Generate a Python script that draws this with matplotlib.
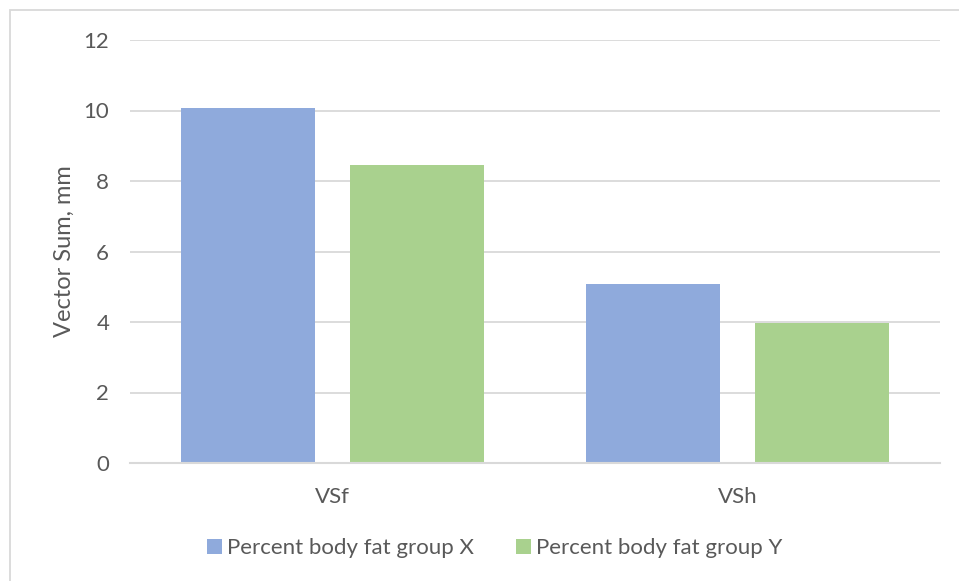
import matplotlib
matplotlib.use('Agg')
import matplotlib.pyplot as plt
import numpy as np
from matplotlib.patches import Rectangle

categories = ['VSf', 'VSh']
group_x = [10.07, 5.07]
group_y = [8.46, 3.97]
series_names = ['Percent body fat group X', 'Percent body fat group Y']
yticks = [0, 2, 4, 6, 8, 10, 12]

blue = '#8FAADC'
green = '#A9D18E'
text_col = '#595959'
grid_col = '#D9D9D9'

plt.rcParams['font.family'] = ['Lato', 'DejaVu Sans']

fig = plt.figure(figsize=(9.59, 5.81), dpi=100)
ax = fig.add_axes([130 / 959, 1 - 463 / 581, 810 / 959, 423 / 581])

x = np.arange(len(categories))
w = 0.333
off = 0.2085
ax.bar(x - off, group_x, w, color=blue, label=series_names[0], zorder=3)
ax.bar(x + off, group_y, w, color=green, label=series_names[1], zorder=3)

ax.set_xlim(-0.5, 1.5)
ax.set_ylim(0, 12)
ax.set_yticks(yticks)
ax.set_yticklabels([str(t) for t in yticks])
ax.set_xticks(x)
ax.set_xticklabels(categories)
ax.yaxis.grid(True, color=grid_col, linewidth=1.3, zorder=0)
for s in ['top', 'right', 'left']:
    ax.spines[s].set_visible(False)
ax.spines['bottom'].set_color(grid_col)
ax.spines['bottom'].set_linewidth(1.5)
ax.spines['bottom'].set_zorder(4)
ax.tick_params(axis='both', length=0, colors=text_col, labelsize=16)
ax.tick_params(axis='y', pad=15)
ax.tick_params(axis='x', pad=17)
ax.set_ylabel('Vector Sum, mm', color=text_col, fontsize=17, labelpad=6)

ax.legend(loc='center', bbox_to_anchor=(495 / 959, 1 - 548 / 581),
          bbox_transform=fig.transFigure, ncol=2, frameon=False,
          fontsize=16, labelcolor=text_col, handlelength=0.65,
          handleheight=0.65, handletextpad=0.25, columnspacing=1.9)

# chart area border
fig.patches.append(Rectangle((10 / 959, -0.1), 1.1, 1 - 10 / 581 + 0.1,
                             transform=fig.transFigure, fill=False,
                             edgecolor='#D9D9D9', linewidth=1.3))

fig.savefig('out.png', dpi=100)
